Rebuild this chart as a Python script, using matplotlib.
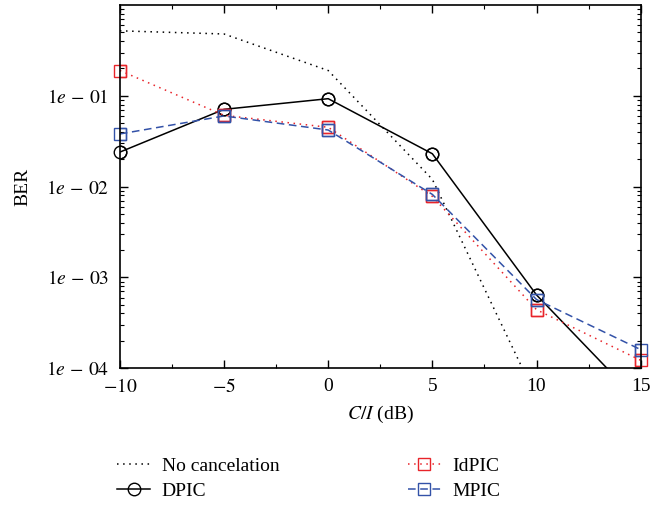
import matplotlib
matplotlib.use("Agg")
import matplotlib.pyplot as plt
from matplotlib.ticker import FixedLocator, LogLocator, NullFormatter

plt.rcParams.update({
    "font.family": "Liberation Serif",
    "mathtext.fontset": "stix",
    "font.size": 14,
})

ci_db = [-10, -5, 0, 5, 10, 15]
ber_none = [0.52, 0.48, 0.19, 0.012, 4.7e-5]
ber_dpic = [0.024, 0.071, 0.093, 0.023, 6.4e-4, 4.1e-5]
ber_idpic = [0.19, 0.061, 0.045, 0.0078, 4.4e-4, 1.22e-4]
ber_mpic = [0.038, 0.060, 0.042, 0.0082, 5.7e-4, 1.6e-4]

ytick_vals = [1e-4, 1e-3, 1e-2, 1e-1]
ytick_labels = [r"$1e\,-\,04$", r"$1e\,-\,03$", r"$1e\,-\,02$", r"$1e\,-\,01$"]

fig = plt.figure(figsize=(6.66, 5.05), dpi=100)
ax = fig.add_axes([0.180, 0.271, 0.782, 0.719])

red = "#e8242a"
blue = "#3352a8"

series = [
    (ci_db[:5], ber_none, "black", (0, (1, 3)), None, "No cancelation"),
    (ci_db, ber_dpic, "black", "-", "o", "DPIC"),
    (ci_db, ber_idpic, red, (0, (1, 3)), "s", "IdPIC"),
    (ci_db, ber_mpic, blue, (0, (5, 3)), "s", "MPIC"),
]
for x, y, c, ls, mk, lab in series:
    ms = 9 if mk == "o" else 8
    ax.plot(x, y, color=c, linestyle=ls, linewidth=1.1, marker=mk, markersize=ms,
            markerfacecolor="none", label=lab)
    if mk:
        # markers at the axis edge are not clipped in the original
        vis = [(xi, yi) for xi, yi in zip(x, y) if yi >= 1e-4]
        ax.plot([v[0] for v in vis], [v[1] for v in vis], linestyle="none", color=c,
                marker=mk, markersize=ms, markerfacecolor="none", clip_on=False)

ax.set_yscale("log")
ax.set_xlim(-10, 15)
ax.set_ylim(1e-4, 1)
ax.set_yticks(ytick_vals)
ax.set_yticklabels(ytick_labels)
ax.yaxis.set_minor_locator(LogLocator(base=10, subs=range(2, 10)))
ax.yaxis.set_minor_formatter(NullFormatter())
ax.set_xticks(ci_db)
ax.set_xticklabels([r"$-10$", r"$-5$", "0", "5", "10", "15"])
ax.xaxis.set_minor_locator(FixedLocator([-7.5, -2.5, 2.5, 7.5, 12.5]))
ax.tick_params(which="both", direction="in", top=True, right=True)
ax.tick_params(which="major", length=6, width=1, labelsize=14)
ax.tick_params(axis="x", which="major", pad=7)
ax.tick_params(axis="y", which="major", pad=8)
ax.tick_params(which="minor", length=3, width=0.8)
for s in ax.spines.values():
    s.set_linewidth(1.2)

ax.set_xlabel(r"$C/I$ (dB)", fontsize=14, labelpad=6)
ax.set_ylabel("BER", fontsize=14, labelpad=10)

fig.legend(loc="upper left", bbox_to_anchor=(0.164, 0.11), ncol=2, frameon=False,
           fontsize=14, handlelength=1.7, handletextpad=0.6, columnspacing=6.6,
           labelspacing=0.4, borderaxespad=0)

fig.savefig("out.png", dpi=100)
